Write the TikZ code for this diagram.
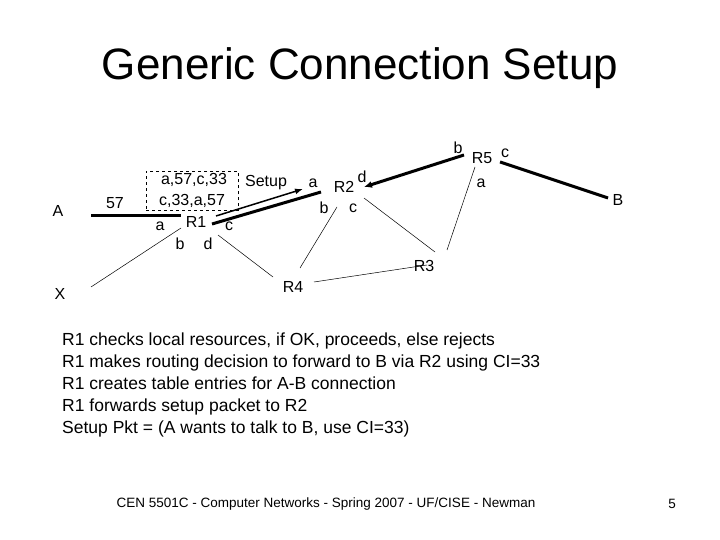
\documentclass[tikz,border=0pt]{standalone}
\usepackage{fontspec}
\setmainfont{Liberation Sans}
\usetikzlibrary{arrows.meta}
\begin{document}
\begin{tikzpicture}[x=1pt,y=-1pt,
 lbl/.style={inner sep=0pt,font=\fontsize{16}{18}\selectfont},
 thick line/.style={line width=3pt},
 thin line/.style={line width=0.5pt}]
\useasboundingbox (0,0) rectangle (720,540);
\node[inner sep=0pt,font=\fontsize{44}{50}\selectfont] (title) at (360,68) {Generic Connection Setup};
% labels
\node[lbl] (A) at (58,211) {A};
\node[lbl] (n57) at (115,203) {57};
\node[lbl] (R1) at (196,222) {R1};
\node[lbl] (r1a) at (160,226) {a};
\node[lbl] (r1c) at (229,226) {c};
\node[lbl] (r1b) at (180,244) {b};
\node[lbl] (r1d) at (208,244) {d};
\node[lbl] (X) at (60,294) {X};
\node[lbl] (R4) at (293,287) {R4};
\node[lbl] (R2) at (344,187) {R2};
\node[lbl] (r2a) at (313,183) {a};
\node[lbl] (r2d) at (362,177) {d};
\node[lbl] (r2b) at (324,208) {b};
\node[lbl] (r2c) at (353,208) {c};
\node[lbl] (R3) at (424,266) {R3};
\node[lbl] (R5) at (482,158) {R5};
\node[lbl] (r5b) at (458,148) {b};
\node[lbl] (r5c) at (505,153) {c};
\node[lbl] (r5a) at (481,183) {a};
\node[lbl] (B) at (618,200) {B};
\node[lbl] (setup) at (266,183) {Setup};
\node[draw,dashed,thin line,minimum width=92pt,minimum height=39pt,inner sep=0pt] (box) at (192,191) {};
\node[lbl] (t1) at (194,180) {a,57,c,33};
\node[lbl] (t2) at (192,201) {c,33,a,57};
% coordinates
\coordinate (a1) at (91,216); \coordinate (a2) at (181,216);
\coordinate (p1) at (212,224); \coordinate (p2) at (321,192);
\coordinate (q1) at (216,216); \coordinate (q2) at (303,189);
\coordinate (s1) at (464,155); \coordinate (s2) at (364,187);
\coordinate (u1) at (500,162); \coordinate (u2) at (608,198);
% thick
\draw[thick line] (a1) -- (a2);
\draw[thick line] (p1) -- (p2);
\draw[line width=1.5pt,-{Latex[length=8pt,width=6pt]}] (q1) -- (q2);
\draw[thick line,-{Latex[length=8pt,width=7pt]}] (s1) -- (s2);
\draw[thick line] (u1) -- (u2);
% thin
\draw[thin line] (181,228) -- (91,287);
\draw[thin line] (218,235) -- (273,277);
\draw[thin line] (314,282) -- (427,265);
\draw[thin line] (337,207) -- (300,268);
\draw[thin line] (364,198) -- (435,252);
\draw[thin line] (475,167) -- (447,250);
% text
\node[anchor=west,align=left,inner sep=0pt,font=\fontsize{17.5}{21.8}\selectfont] (body) at (62,385) {R1 checks local resources, if OK, proceeds, else rejects\\
R1 makes routing decision to forward to B via R2 using CI=33\\
R1 creates table entries for A-B connection\\
R1 forwards setup packet to R2\\
Setup Pkt = (A wants to talk to B, use CI=33)};
\node[inner sep=0pt,font=\fontsize{13.5}{15}\selectfont] (foot) at (326,504) {CEN 5501C - Computer Networks - Spring 2007 - UF/CISE - Newman};
\node[inner sep=0pt,font=\fontsize{13.5}{15}\selectfont] (pg) at (672,504) {5};
\end{tikzpicture}
\end{document}
